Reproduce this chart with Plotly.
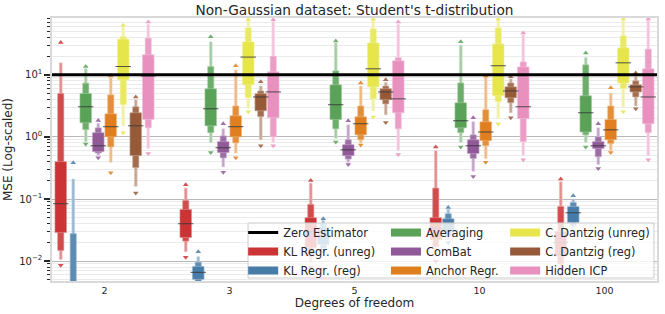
import colorsys
import plotly.graph_objects as go

# ---------------- data ----------------
GROUPS = ["2", "3", "5", "10", "100"]
METHODS = ["KL Regr. (unreg)", "KL Regr. (reg)", "Averaging", "ComBat",
           "Anchor Regr.", "C. Dantzig (unreg)", "C. Dantzig (reg)", "Hidden ICP"]
BASE_COLORS = ["#e41a1c", "#377eb8", "#4daf4a", "#984ea3",
               "#ff7f00", "#ffff33", "#a65628", "#f781bf"]
ZERO_MSE = 10.0

# rows = methods (order above), columns = groups (2, 3, 5, 10, 100)
MEDIAN = [
    [0.084, 0.040, 0.030, 0.034, 0.020],
    [0.002, 0.0066, 0.026, 0.040, 0.060],
    [3.06, 2.84, 3.3, 1.82, 2.45],
    [0.72, 0.67, 0.62, 0.72, 0.72],
    [1.46, 1.46, 1.63, 1.2, 1.3],
    [13.6, 19.3, 12.5, 14.0, 15.6],
    [1.51, 4.4, 5.3, 5.5, 6.4],
    [9.6, 5.3, 4.1, 3.06, 4.4],
]
L1_LO = [
    [0.029, 0.024, 0.0165, 0.022, 0.012],
    [0.0008, 0.0051, 0.0185, 0.029, 0.042],
    [1.69, 1.51, 1.9, 1.4, 1.2],
    [0.58, 0.56, 0.5, 0.54, 0.65],
    [1.0, 1.0, 1.08, 0.87, 0.9],
    [8.3, 6.9, 6.4, 4.6, 7.4],
    [0.5, 2.64, 3.97, 4.27, 5.3],
    [1.9, 2.04, 2.45, 1.97, 1.63],
]
L1_HI = [
    [0.40, 0.068, 0.050, 0.050, 0.030],
    [0.004, 0.0082, 0.035, 0.048, 0.0755],
    [5.0, 5.96, 6.9, 3.55, 4.6],
    [1.17, 0.84, 0.75, 0.9, 0.84],
    [2.36, 2.19, 2.11, 1.75, 1.9],
    [37.5, 34.0, 32.7, 31.5, 27.2],
    [2.45, 4.96, 5.96, 6.4, 6.9],
    [21.0, 11.2, 16.8, 13.4, 12.5],
]
L2_LO = [
    [0.0148, 0.021, 0.012, 0.017, 0.009],
    [0.0003, 0.0045, 0.016, 0.025, 0.037],
    [1.31, 1.17, 1.35, 1.17, 1.08],
    [0.55, 0.46, 0.44, 0.45, 0.48],
    [0.69, 0.8, 0.9, 0.72, 0.78],
    [3.3, 4.27, 4.1, 3.7, 6.0],
    [0.32, 2.12, 3.4, 3.55, 4.4],
    [1.4, 1.0, 1.35, 0.84, 1.17],
]
L2_HI = [
    [5.0, 0.095, 0.082, 0.15, 0.076],
    [0.0278, 0.0096, 0.040, 0.058, 0.088],
    [7.35, 13.6, 11.6, 7.4, 14.5],
    [1.4, 1.04, 0.9, 1.08, 1.0],
    [4.77, 3.15, 3.15, 2.74, 3.15],
    [41.0, 57.0, 55.0, 57.0, 42.4],
    [3.06, 5.5, 6.6, 7.4, 8.0],
    [39.0, 20.0, 19.0, 16.2, 26.0],
]
L3_LO = [
    [0.0106, 0.0142, 0.0095, 0.012, 0.007],
    [0.0002, 0.004, 0.015, 0.022, 0.033],
    [0.84, 0.81, 0.95, 0.82, 0.82],
    [0.5, 0.33, 0.39, 0.28, 0.36],
    [0.39, 0.55, 0.8, 0.45, 0.6],
    [1.5, 2.9, 2.6, 2.0, 3.0],
    [0.16, 0.9, 2.27, 2.45, 3.15],
    [0.65, 0.82, 0.6, 0.5, 0.5],
]
L3_HI = [
    [15.6, 0.15, 0.18, 0.6, 0.19],
    [0.21, 0.0118, 0.045, 0.068, 0.1],
    [12.5, 34.0, 32.6, 30.0, 19.0],
    [1.65, 1.35, 1.57, 1.76, 1.4],
    [8.9, 12.0, 6.6, 9.3, 5.1],
    [59.0, 75.0, 77.0, 77.0, 75.0],
    [3.97, 6.6, 7.5, 8.6, 9.5],
    [65.0, 72.0, 65.0, 44.0, 75.0],
]
OUT_LO = [
    [0.0086, 0.0115, 0.008, 0.010, 0.006],
    [0.0001, 0.0035, 0.014, 0.020, 0.030],
    [0.77, 0.56, 0.83, 0.69, 0.69],
    [0.46, 0.27, 0.36, 0.23, 0.31],
    [0.265, 0.46, 0.74, 0.39, 0.56],
    [1.17, 2.54, 2.1, 1.63, 2.54],
    [0.125, 0.72, 1.7, 2.04, 2.84],
    [0.54, 0.72, 0.52, 0.43, 0.43],
]
OUT_HI = [
    [33.0, 0.17, 0.198, 0.69, 0.21],
    [0.385, 0.0142, 0.048, 0.073, 0.113],
    [13.6, 41.0, 35.0, 34.0, 22.5],
    [1.84, 1.63, 1.82, 2.04, 1.63],
    [9.6, 14.0, 7.4, 9.6, 6.2],
    [63.0, 78.0, 79.0, 79.0, 79.0],
    [4.4, 7.7, 8.3, 9.3, 10.7],
    [71.0, 77.0, 71.0, 47.0, 79.0],
]

# ---------------- styling helpers ----------------
def desat(hexc, prop=0.75):
    r, g, b = [int(hexc[i:i + 2], 16) / 255 for i in (1, 3, 5)]
    h, l, s = colorsys.rgb_to_hls(r, g, b)
    return colorsys.hls_to_rgb(h, l, s * prop)


def blend(rgb, f):
    return "rgb(%d,%d,%d)" % tuple(round(255 * (f * c + (1 - f))) for c in rgb)


TXT = "#262626"
FONT = "DejaVu Sans"
HUE_STEP = 0.1
XMIN, XMAX = -0.42, 4.42
LEVEL_WIDTHS = [0.093, 0.05, 0.022]
LEVEL_SHADES = [1.0, 0.88, 0.55]

fig = go.Figure()
nh = len(METHODS)
for i, name in enumerate(METHODS):
    rgb = desat(BASE_COLORS[i])
    xs = [g + (i - (nh - 1) / 2) * HUE_STEP for g in range(len(GROUPS))]
    levels = [(L1_LO[i], L1_HI[i]), (L2_LO[i], L2_HI[i]), (L3_LO[i], L3_HI[i])]
    for lev in (2, 1, 0):
        lo, hi = levels[lev]
        fig.add_trace(go.Bar(
            x=xs, base=lo, y=[h - l for l, h in zip(lo, hi)],
            width=LEVEL_WIDTHS[lev],
            marker=dict(color=blend(rgb, LEVEL_SHADES[lev]),
                        line=dict(color=blend(rgb, LEVEL_SHADES[lev] * 0.55), width=0.6)),
            showlegend=False, hoverinfo="skip"))
    fig.add_trace(go.Scatter(
        x=xs, y=MEDIAN[i], mode="markers", showlegend=False, hoverinfo="skip",
        marker=dict(symbol="line-ew", size=11, line=dict(color="rgba(55,55,55,0.85)", width=1))))
    fig.add_trace(go.Scatter(
        x=xs, y=OUT_HI[i], mode="markers", showlegend=False, hoverinfo="skip",
        marker=dict(symbol="triangle-up", size=5, color=blend(rgb, 0.85))))
    fig.add_trace(go.Scatter(
        x=xs, y=OUT_LO[i], mode="markers", showlegend=False, hoverinfo="skip",
        marker=dict(symbol="triangle-down", size=5, color=blend(rgb, 0.85))))

# zero estimator line
fig.add_trace(go.Scatter(x=[XMIN, XMAX], y=[ZERO_MSE, ZERO_MSE], mode="lines",
                         line=dict(color="black", width=3), name="Zero Estimator",
                         legend="legend", hoverinfo="skip"))

# legend entries (3 columns)
legend_cols = ["legend", "legend", "legend2", "legend2", "legend2",
               "legend3", "legend3", "legend3"]
for i, name in enumerate(METHODS):
    rgb = desat(BASE_COLORS[i])
    fig.add_trace(go.Scatter(x=[None], y=[None], mode="lines", name=name,
                             line=dict(color=blend(rgb, 1.0), width=8),
                             legend=legend_cols[i]))

minor_vals = [k * 10.0 ** e for e in range(-3, 2) for k in range(2, 10)]

leg_common = dict(bgcolor="rgba(0,0,0,0)", borderwidth=0, orientation="v",
                  font=dict(family=FONT, size=11.4, color=TXT),
                  yanchor="top", xanchor="left", y=0.2394, tracegroupgap=0)

fig.update_layout(
    width=665, height=314,
    margin=dict(l=52, r=8, t=18, b=33, autoexpand=False),
    paper_bgcolor="white", plot_bgcolor="white",
    barmode="overlay",
    font=dict(family=FONT, color=TXT, size=11),
    title=dict(text="Non-Gaussian dataset: Student's t-distribution",
               x=0.533, xanchor="center", y=0.968, yanchor="middle",
               font=dict(size=13.7, color=TXT)),
    xaxis=dict(range=[XMIN, XMAX], tickmode="array", tickvals=list(range(len(GROUPS))),
               ticktext=GROUPS, showgrid=False, zeroline=False, ticks="",
               showline=True, linecolor="#d9d9d9", linewidth=1.5, mirror=True,
               tickfont=dict(size=9.5, color=TXT), automargin=False,
               title=dict(text="Degrees of freedom", font=dict(size=12, color=TXT), standoff=2)),
    yaxis=dict(type="log", range=[-2.32, 1.915],
               tickmode="array", tickvals=[0.01, 0.1, 1, 10],
               ticktext=["10<sup>−2</sup>", "10<sup>−1</sup>", "10<sup>0</sup>", "10<sup>1</sup>"],
               ticks="outside", ticklen=6, tickwidth=1.5, tickcolor=TXT,
               showgrid=True, gridcolor="#b8b8b8", gridwidth=1.4,
               minor=dict(tickvals=minor_vals, ticks="outside", ticklen=3, tickwidth=0.8,
                          tickcolor=TXT, showgrid=True, gridcolor="#ebebeb", gridwidth=0.8),
               showline=True, linecolor="#d9d9d9", linewidth=1.5, mirror=True,
               zeroline=False, tickfont=dict(size=10, color=TXT), automargin=False,
               title=dict(text="MSE (Log-scaled)", font=dict(size=12, color=TXT), standoff=4)),
    legend=dict(x=0.316, **leg_common),
    legend2=dict(x=0.552, **leg_common),
    legend3=dict(x=0.749, **leg_common),
    shapes=[dict(type="rect", xref="paper", yref="paper", x0=0.324, x1=0.995,
                 y0=0.0114, y1=0.2205, layer="above",
                 fillcolor="rgba(255,255,255,0.8)", line=dict(color="#cccccc", width=1))],
)

fig.write_html("out.html", config={"displayModeBar": False},
               post_script="document.body.style.margin='0px';")
